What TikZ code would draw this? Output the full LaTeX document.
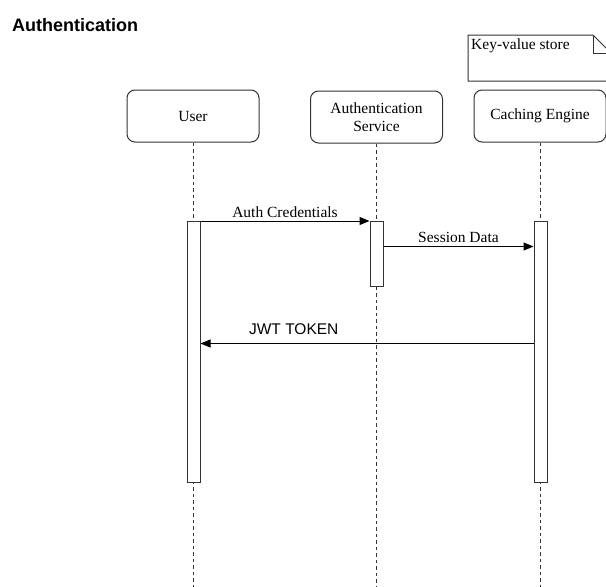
\documentclass[tikz,border=0pt]{standalone}
\usepackage{fontspec}
\setmainfont{Liberation Serif}
\newfontfamily\arialfont{Liberation Sans}
\usepackage{xcolor}
\usetikzlibrary{arrows.meta,positioning}
\definecolor{seqline}{HTML}{333333}

\begin{document}
\begin{tikzpicture}[x=1pt,y=-1pt,>=Triangle,font=\fontsize{15.5}{18}\selectfont]

\tikzset{
hdr/.style={
    draw=seqline,
    line width=1pt,
    rounded corners=8pt,
    fill=white,
    minimum width=132pt,
    minimum height=52pt,
    align=center
},
act/.style={draw=seqline,line width=1pt,fill=white,minimum width=13pt,anchor=north,inner sep=0pt},
life/.style={draw=seqline,line width=1pt,dash pattern=on 3.5pt off 3pt},
msg/.style={line width=1pt,-{Triangle[length=10pt,width=8pt]}}
}

\useasboundingbox (0,0) rectangle (606,587);

% title
\node[anchor=west,inner sep=0pt,font=\arialfont\bfseries\fontsize{18}{20}\selectfont] (title) at (12,25) {Authentication};

% note
\draw[seqline,line width=1pt] (468,35) -- (593,35) -- (611,53) -- (611,81) -- (468,81) -- cycle;
\draw[seqline,line width=1pt] (593,35) -- (593,53) -- (611,53);
\node[anchor=west,inner sep=0pt] (note) at (471,46) {Key-value store};

% participants
\node[hdr] (user) at (193,116) {User};
\node[hdr] (auth) at (376.5,117) {Authentication\\Service};
\node[hdr,minimum height=52pt] (cache) at (540,116) {Caching Engine};

\coordinate (userend) at (193,587);
\coordinate (authend) at (376.5,587);
\coordinate (cacheend) at (540,587);

\draw[life] (user) -- (userend);
\draw[life] (auth) -- (authend);
\draw[life] (cache) -- (cacheend);

% activations
\node[act,minimum height=261pt] (useract) at (193.5,221) {};
\node[act,minimum height=65pt] (authact) at (376.5,221) {};
\node[act,minimum height=261pt] (cacheact) at (540.5,221) {};

% messages
\draw[msg] (useract.north east) -- node[above,inner sep=3pt] {Auth Credentials} (authact.north west);
\draw[msg] ([yshift=-25.5pt]authact.north east) -- node[above,inner sep=3pt] {Session Data} ([yshift=-25.5pt]cacheact.north west);
\draw[msg] ([yshift=-122.5pt]cacheact.north west) -- node[pos=0.72,above=8pt,inner sep=0pt,font=\arialfont\fontsize{15.5}{18}\selectfont] {JWT TOKEN} ([yshift=-122.5pt]useract.north east);

\end{tikzpicture}
\end{document}
